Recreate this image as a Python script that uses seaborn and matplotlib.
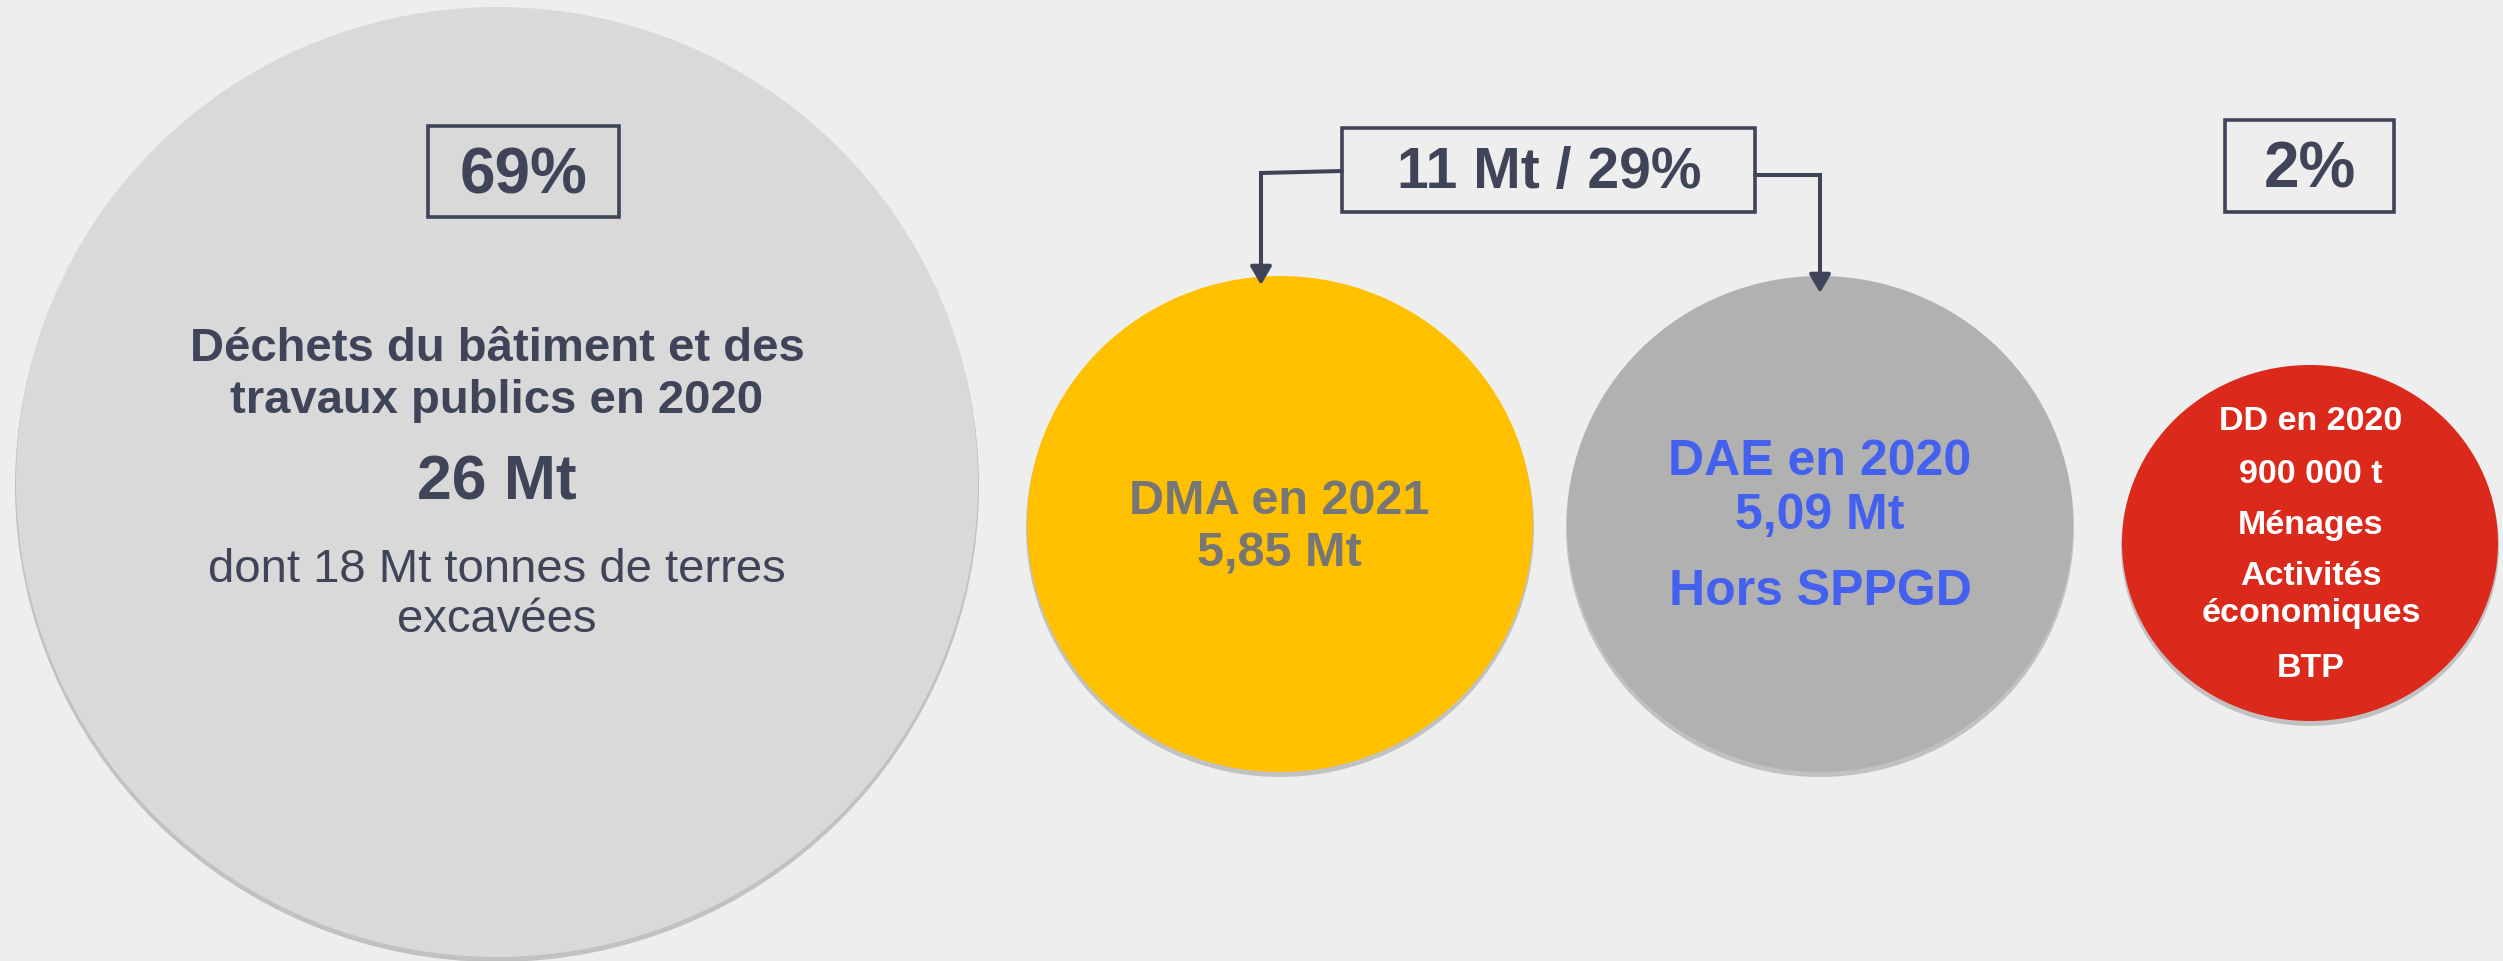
import matplotlib.pyplot as plt
import pandas as pd
import seaborn as sns
from matplotlib.path import Path
from matplotlib.patches import Rectangle
from matplotlib.transforms import Affine2D

# data
categories = ["BTP", "DMA", "DAE", "DD"]
tonnages_mt = [26, 5.85, 5.09, 0.9]
share_labels = ["69%", "11 Mt / 29%", "2%"]
btp_lines = ["Déchets du bâtiment et des", "travaux publics en 2020", "26 Mt",
             "dont 18 Mt tonnes de terres", "excavées"]
dma_lines = ["DMA en 2021", "5,85 Mt"]
dae_lines = ["DAE en 2020", "5,09 Mt", "Hors SPPGD"]
dd_lines = ["DD en 2020", "900 000 t", "Ménages", "Activités", "économiques", "BTP"]

# layout (pixel space, 2503 x 961)
W, H = 2503, 961
bubble_x = [497, 1280, 1820, 2310]
bubble_y = [482, 524, 524, 543]
bubble_w = [962, 506, 506, 376]
bubble_h = [950, 496, 496, 356]
bubble_colors = ["#d9d9d9", "#ffc000", "#b1b1b1", "#db291c"]

NAVY = "#3f4458"
BG = "#eeeeee"

sns.set_theme(style="white")
plt.rcParams["font.family"] = ["Liberation Sans", "DejaVu Sans"]

fig = plt.figure(figsize=(W / 100, H / 100), dpi=100)
fig.patch.set_facecolor(BG)
ax = fig.add_axes([0, 0, 1, 1])
ax.set_facecolor(BG)


def ellipse_marker(w, h):
    return Path.unit_circle().transformed(Affine2D().scale(1, h / w))


bubbles = pd.DataFrame({
    "categorie": categories,
    "tonnage": tonnages_mt,
    "x": bubble_x,
    "y": bubble_y,
})
markers = {c: ellipse_marker(w, h) for c, w, h in zip(categories, bubble_w, bubble_h)}
sizes = {c: (w * 0.72) ** 2 for c, w in zip(categories, bubble_w)}
shadow_sizes = {c: ((w + 2) * 0.72) ** 2 for c, w in zip(categories, bubble_w)}

# soft shadow under each bubble
shadow = bubbles.assign(y=bubbles["y"] + 4)
sns.scatterplot(data=shadow, x="x", y="y", color="#8c8c8c",
                size="categorie", sizes=shadow_sizes,
                style="categorie", markers=markers,
                linewidth=0, alpha=0.45, legend=False, ax=ax, zorder=1)
sns.scatterplot(data=bubbles, x="x", y="y", hue="categorie",
                palette=dict(zip(categories, bubble_colors)),
                size="categorie", sizes=sizes,
                style="categorie", markers=markers,
                linewidth=0, legend=False, ax=ax, zorder=2)

ax.set_xlim(0, W)
ax.set_ylim(H, 0)
ax.axis("off")

# big circle text
btp_base = [361, 413, 499, 582, 632]
btp_size = [34, 34, 45, 34, 34]
btp_weight = ["bold", "bold", "bold", "normal", "normal"]
for txt, yb, fs, fw in zip(btp_lines, btp_base, btp_size, btp_weight):
    ax.text(497, yb, txt, ha="center", va="baseline", fontsize=fs,
            fontweight=fw, color=NAVY, zorder=5)

for txt, yb in zip(dma_lines, [514, 567]):
    ax.text(1279, yb, txt, ha="center", va="baseline", fontsize=35,
            fontweight="bold", color="#767676", zorder=5)

for txt, yb in zip(dae_lines, [475, 529, 605]):
    ax.text(1820, yb, txt, ha="center", va="baseline", fontsize=36,
            fontweight="bold", color="#4361ee", zorder=5)

for txt, yb in zip(dd_lines, [430, 483, 534, 585, 622, 677]):
    ax.text(2311, yb, txt, ha="center", va="baseline", fontsize=24.5,
            fontweight="bold", color="white", zorder=5)

# share boxes
box_xy = [(428, 126), (1342, 128), (2225, 120)]
box_wh = [(191, 91), (413, 84), (169, 92)]
share_x = [524, 1549, 2310]
share_base = [193, 188, 187]
share_size = [46, 41, 46]
for lab, (bx, by), (bw, bh), tx, tb, fs in zip(share_labels, box_xy, box_wh,
                                               share_x, share_base, share_size):
    ax.add_patch(Rectangle((bx, by), bw, bh, fill=False, edgecolor=NAVY,
                           linewidth=2.6, zorder=4))
    ax.text(tx, tb, lab, ha="center", va="baseline", fontsize=fs,
            fontweight="bold", color=NAVY, zorder=5)

# connectors from the 11 Mt box to DMA / DAE
ax.plot([1342, 1261, 1261], [171, 173, 272], color=NAVY, lw=2.9,
        solid_joinstyle="miter", zorder=4)
ax.plot([1755, 1820, 1820], [175, 175, 280], color=NAVY, lw=2.9,
        solid_joinstyle="miter", zorder=4)
for tx, tip in [(1261, 285), (1820, 293)]:
    ax.annotate("", xy=(tx, tip), xytext=(tx, tip - 30),
                arrowprops=dict(arrowstyle="-|>,head_length=0.55,head_width=0.32",
                                mutation_scale=20, color=NAVY, lw=2.9,
                                shrinkA=0, shrinkB=0), zorder=4)

fig.savefig("out.png", dpi=100, facecolor=BG)
